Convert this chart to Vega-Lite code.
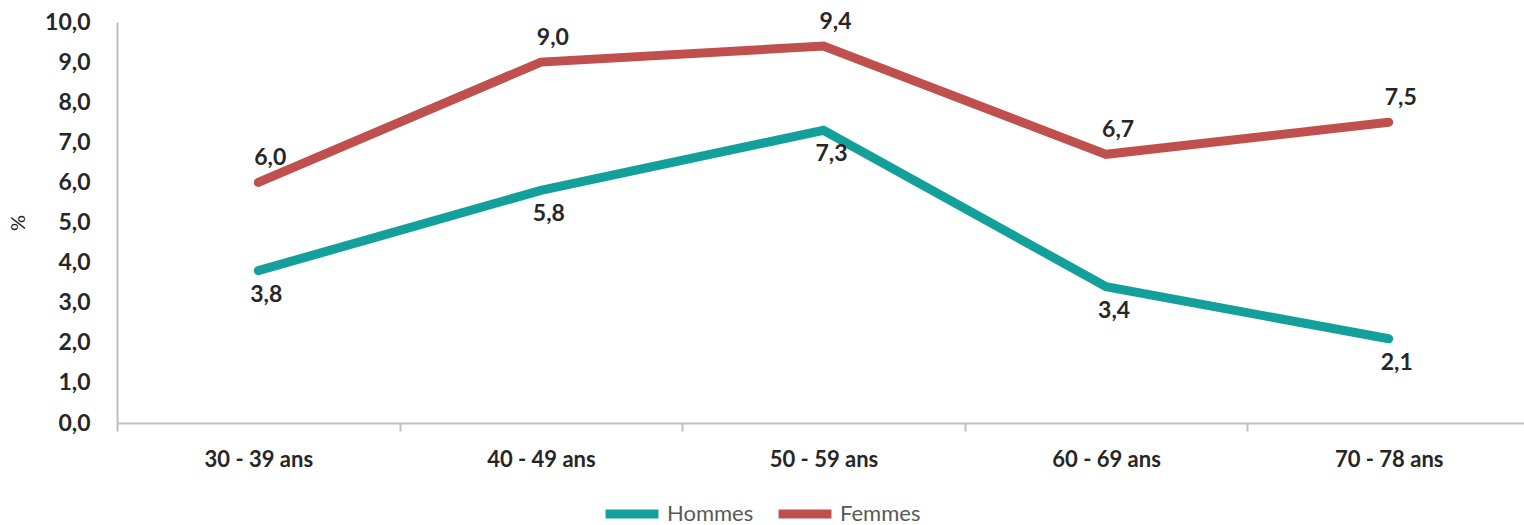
{
  "$schema": "https://vega.github.io/schema/vega-lite/v6.json",
  "autosize": {"type": "none"},
  "padding": {"left": 117, "top": 22, "right": 0, "bottom": 102},
  "width": 1413,
  "height": 401,
  "background": "#ffffff",
  "config": {
    "locale": {"number": {"decimal": ",", "thousands": " ", "grouping": [3], "currency": ["", " €"]}},
    "view": {"stroke": null},
    "font": "Lato"
  },
  "data": {
    "values": [
      {"age": "30 - 39 ans", "sexe": "Hommes", "pct": 3.8},
      {"age": "40 - 49 ans", "sexe": "Hommes", "pct": 5.8},
      {"age": "50 - 59 ans", "sexe": "Hommes", "pct": 7.3},
      {"age": "60 - 69 ans", "sexe": "Hommes", "pct": 3.4},
      {"age": "70 - 78 ans", "sexe": "Hommes", "pct": 2.1},
      {"age": "30 - 39 ans", "sexe": "Femmes", "pct": 6.0},
      {"age": "40 - 49 ans", "sexe": "Femmes", "pct": 9.0},
      {"age": "50 - 59 ans", "sexe": "Femmes", "pct": 9.4},
      {"age": "60 - 69 ans", "sexe": "Femmes", "pct": 6.7},
      {"age": "70 - 78 ans", "sexe": "Femmes", "pct": 7.5}
    ]
  },
  "encoding": {
    "x": {
      "field": "age", "type": "ordinal", "sort": null,
      "scale": {"type": "band", "paddingInner": 0, "paddingOuter": 0},
      "axis": {
        "title": null, "labelAngle": 0, "tickBand": "extent",
        "labelFont": "Lato", "labelFontWeight": "bold", "labelFontSize": 22, "labelColor": "#262626",
        "labelPadding": 18, "tickSize": 8, "tickColor": "#bfbfbf", "tickWidth": 2,
        "domainColor": "#bfbfbf", "domainWidth": 2, "grid": false
      }
    },
    "y": {
      "field": "pct", "type": "quantitative",
      "scale": {"domain": [0, 10], "nice": false},
      "axis": {
        "title": "%", "titleFont": "Lato", "titleFontWeight": "normal", "titleFontSize": 20, "titleColor": "#262626",
        "titlePadding": 16,
        "values": [0, 1, 2, 3, 4, 5, 6, 7, 8, 9, 10], "format": ".1f",
        "labelFont": "Lato", "labelFontWeight": "bold", "labelFontSize": 23, "labelColor": "#262626",
        "labelPadding": 27, "ticks": false, "grid": false,
        "domainColor": "#bfbfbf", "domainWidth": 2
      }
    }
  },
  "layer": [
    {
      "mark": {"type": "line", "strokeWidth": 9, "strokeCap": "round", "strokeJoin": "miter"},
      "encoding": {
        "color": {
          "field": "sexe", "type": "nominal",
          "scale": {"domain": ["Hommes", "Femmes"], "range": ["#14a09a", "#c0504d"]},
          "legend": {
            "title": null, "orient": "none", "direction": "horizontal",
            "legendX": 484, "legendY": 461,
            "symbolType": "stroke", "symbolSize": 2800, "symbolStrokeWidth": 9,
            "labelFont": "Lato", "labelFontSize": 22, "labelColor": "#595959",
            "labelOffset": 4, "columnPadding": 6
          }
        }
      }
    },
    {
      "transform": [{"filter": "datum.sexe == 'Femmes'"}],
      "mark": {"type": "text", "dx": 12, "dy": -24, "font": "Lato", "fontWeight": "bold", "fontSize": 23, "color": "#262626"},
      "encoding": {"text": {"field": "pct", "type": "quantitative", "format": ".1f"}}
    },
    {
      "transform": [{"filter": "datum.sexe == 'Hommes'"}],
      "mark": {"type": "text", "dx": 8, "dy": 24, "font": "Lato", "fontWeight": "bold", "fontSize": 23, "color": "#262626"},
      "encoding": {"text": {"field": "pct", "type": "quantitative", "format": ".1f"}}
    }
  ]
}
